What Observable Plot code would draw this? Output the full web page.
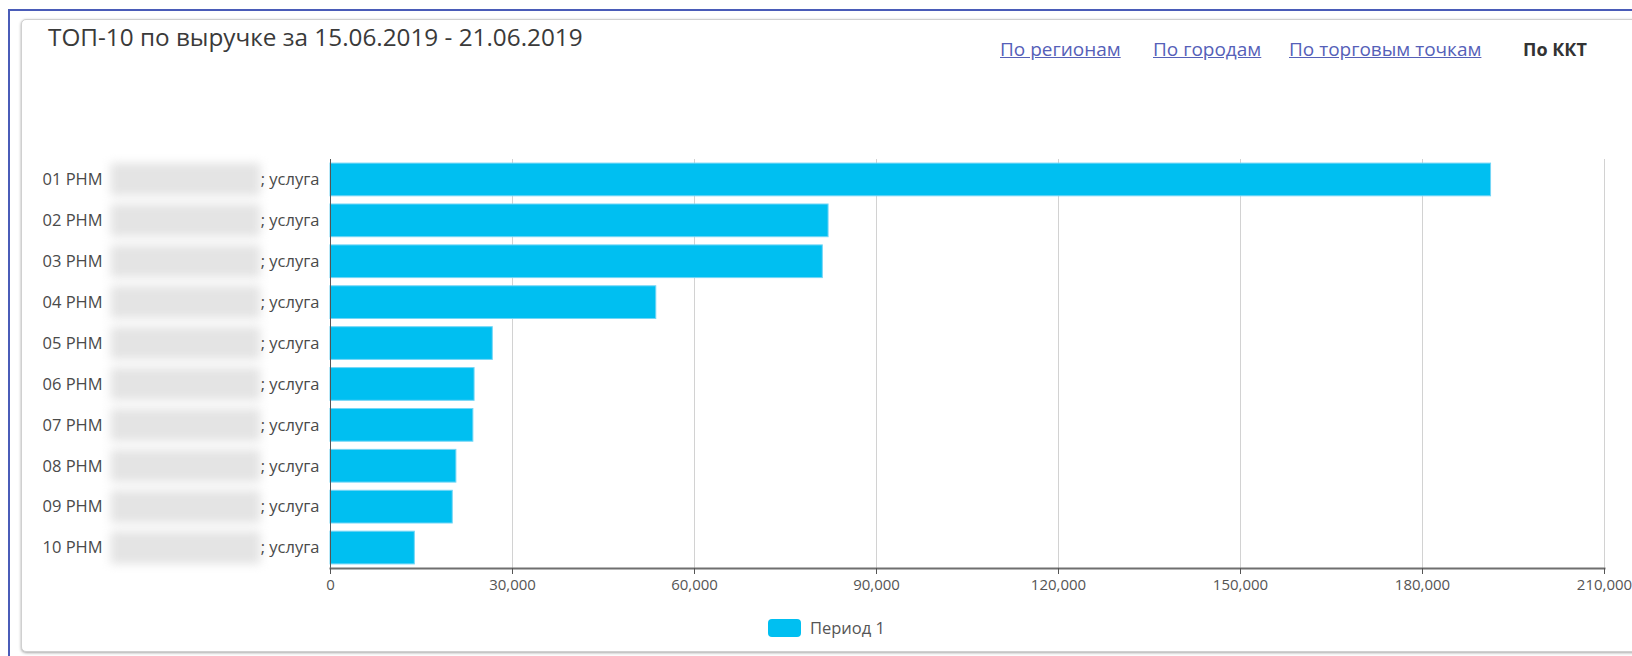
<!DOCTYPE html>
<html><head><meta charset="utf-8">
<script src="https://cdn.jsdelivr.net/npm/d3@7"></script>
<script src="https://cdn.jsdelivr.net/npm/@observablehq/plot@0.6"></script>
<style>
html,body{margin:0;padding:0;width:1632px;height:656px;overflow:hidden;background:#fff;font-family:"Open Sans",sans-serif;}
#outer{position:absolute;left:8px;top:9px;width:1700px;height:700px;border-left:2px solid #4a5cb8;border-top:2px solid #4a5cb8;}
#panel{position:absolute;left:21px;top:19px;width:1700px;height:631px;border:1px solid #d0d0d0;border-radius:5px;box-shadow:0 1px 3px rgba(0,0,0,.35);background:#fff;}
#title{position:absolute;left:48px;top:25px;font-size:24.3px;line-height:24px;color:#3a3a3a;white-space:nowrap;}
#links{position:absolute;left:1000px;top:40px;height:20px;white-space:nowrap;}
.link{position:absolute;top:0;font-size:19px;line-height:19px;color:#5560b8;text-decoration:underline;white-space:nowrap;}
.active{color:#333;font-weight:bold;text-decoration:none;font-size:18px;}
#chart{position:absolute;left:0;top:140px;}
#legend{position:absolute;left:768px;top:619px;height:18px;white-space:nowrap;font-size:16.5px;color:#555;}
#legend .sw{position:absolute;left:0;top:0;width:33px;height:18px;border-radius:4px;}
#legend .lab{position:absolute;left:42px;top:-2px;line-height:22px;}
</style></head>
<body>
<div id="outer"></div>
<div id="panel"></div>
<div id="title"></div>
<div id="links"></div>
<div id="chart"></div>
<div id="legend"></div>
<script>
const titleText = "ТОП-10 по выручке за 15.06.2019 - 21.06.2019";
const linkLabels = ["По регионам", "По городам", "По торговым точкам", "По ККТ"];
const codes = ["01 РНМ", "02 РНМ", "03 РНМ", "04 РНМ", "05 РНМ", "06 РНМ", "07 РНМ", "08 РНМ", "09 РНМ", "10 РНМ"];
const suffixes = ["; услуга", "; услуга", "; услуга", "; услуга", "; услуга", "; услуга", "; услуга", "; услуга", "; услуга", "; услуга"];
const revenue = [191300, 82100, 81150, 53700, 26750, 23750, 23550, 20750, 20150, 13900];
const xTicks = [0, 30000, 60000, 90000, 120000, 150000, 180000, 210000];
const seriesName = "Период 1";
const barColor = "#00bff1";
const maskColor = "#e4e4e4";

document.getElementById("title").textContent = titleText;
const linkX = [0, 153, 289, 523];
const linksDiv = document.getElementById("links");
linkLabels.forEach((t, i) => {
  const s = document.createElement("span");
  s.className = "link" + (i === linkLabels.length - 1 ? " active" : "");
  s.style.left = linkX[i] + "px";
  s.textContent = t;
  linksDiv.appendChild(s);
});

const data = codes.map((c, i) => ({code: c, suffix: suffixes[i], value: revenue[i]}));

const chart = Plot.plot({
  width: 1632,
  height: 470,
  marginLeft: 330,
  marginRight: 28,
  marginTop: 19,
  marginBottom: 42,
  style: {fontFamily: "'Open Sans', sans-serif", fontSize: "15px", color: "#555", background: "transparent"},
  x: {domain: [0, 210000]},
  y: {domain: codes, paddingInner: 0.2, paddingOuter: 0.1, round: false, axis: null},
  marks: [
    Plot.gridX(xTicks, {stroke: "#d2d2d2", strokeOpacity: 1}),
    Plot.barX(data, {x: "value", y: "code", fill: barColor, stroke: "#74d6f6", strokeWidth: 1}),
    Plot.ruleX([0], {stroke: "#555"}),
    Plot.frame({anchor: "bottom", stroke: "#6f6f6f", strokeWidth: 2}),
    Plot.axisX(xTicks, {tickFormat: d3.format(","), tickSize: 6, tickPadding: 5, fontSize: 15, stroke: "#555", fill: "#555", label: null}),
    // blurred (hidden) part of each label
    Plot.tickX(data, {x: () => 0, y: "code", dx: -145, stroke: maskColor, strokeWidth: 150, strokeOpacity: 1}),
    Plot.text(data, {y: "code", text: "code", frameAnchor: "left", textAnchor: "start", dx: -288, fill: "#4a4a4a", fontSize: 16.5}),
    Plot.text(data, {y: "code", text: "suffix", frameAnchor: "left", textAnchor: "end", dx: -11, fill: "#4a4a4a", fontSize: 16.5})
  ]
});
document.getElementById("chart").appendChild(chart);
chart.querySelectorAll('g[stroke="' + maskColor + '"]').forEach(g => { g.style.filter = "blur(5px)"; });

const lg = document.getElementById("legend");
const sw = document.createElement("span"); sw.className = "sw"; sw.style.background = barColor; lg.appendChild(sw);
const lb = document.createElement("span"); lb.className = "lab"; lb.textContent = seriesName; lg.appendChild(lb);
</script>
</body></html>
